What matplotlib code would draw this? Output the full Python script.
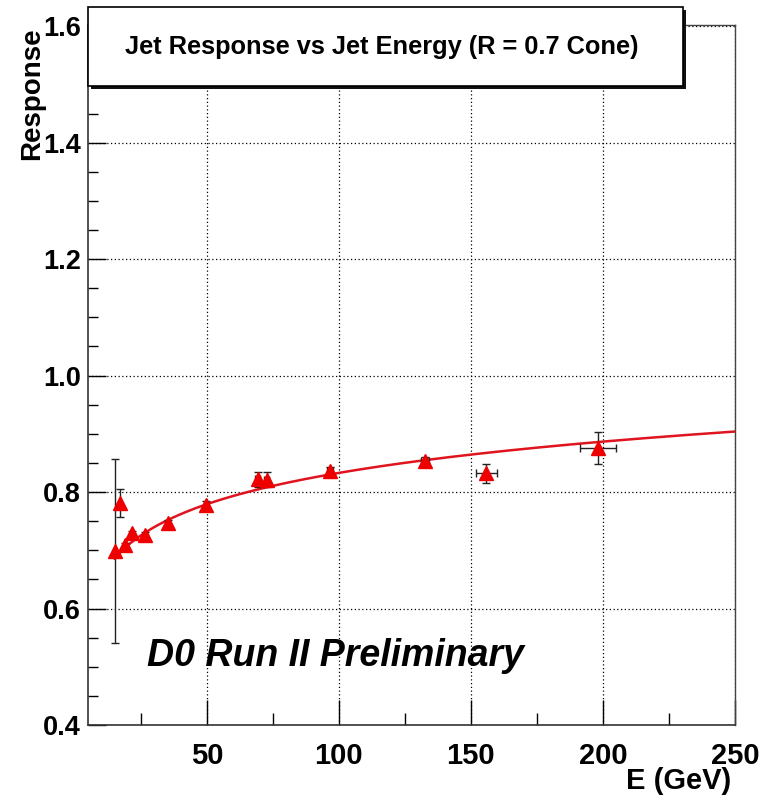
import matplotlib.pyplot as plt
import numpy as np
from matplotlib.patches import Rectangle
from matplotlib.ticker import MultipleLocator

# Messwerte: Jet-Energie (GeV) und Response
energy = [15.1, 17.3, 19.2, 21.7, 26.6, 35.4, 49.6, 69.3, 72.6, 96.7, 132.6, 155.9, 198.2]
response = [0.699, 0.782, 0.709, 0.729, 0.727, 0.747, 0.778, 0.822, 0.821, 0.837, 0.854, 0.832, 0.876]
energy_err = [0.3, 0.3, 0.3, 0.4, 0.5, 0.6, 0.8, 1.0, 1.0, 1.2, 1.5, 3.8, 6.9]
response_err = [0.158, 0.024, 0.004, 0.004, 0.004, 0.005, 0.006, 0.013, 0.013, 0.006, 0.006, 0.017, 0.027]

# Fit: R(E) = p0 + p1*ln(E)
fit_params = [0.476, 0.0775]
fit_range = [15.0, 250.0]

xticks = [50, 100, 150, 200, 250]
yticks = [0.4, 0.6, 0.8, 1.0, 1.2, 1.4, 1.6]

plt.rcParams['font.family'] = ['Liberation Sans', 'DejaVu Sans']

fig = plt.figure(figsize=(7.75, 7.97), dpi=100)
ax = fig.add_axes([88/775, 72/797, (735-88)/775, (725-25)/797])

ax.set_xlim(5, 250)
ax.set_ylim(0.4, 1.602)

ax.grid(True, which='major', color='black', linestyle=(0, (1, 2)), linewidth=0.9)
ax.set_axisbelow(True)

ef = np.linspace(fit_range[0], fit_range[1], 300)
ax.plot(ef, fit_params[0] + fit_params[1]*np.log(ef), color='#e0141e', linewidth=1.8, zorder=3)

ax.errorbar(energy, response, xerr=energy_err, yerr=response_err, fmt='none',
            ecolor='#222222', elinewidth=1.0, capsize=3, capthick=1.0, zorder=4)
ax.plot(energy, response, linestyle='none', marker='^', markersize=10.5,
        color='#ee0000', markeredgecolor='#ee0000', zorder=5)

ax.set_xticks(xticks)
ax.set_yticks(yticks)
ax.set_xticklabels([str(v) for v in xticks])
ax.set_yticklabels([f'{v:.1f}' for v in yticks])
ax.xaxis.set_minor_locator(MultipleLocator(25))
ax.yaxis.set_minor_locator(MultipleLocator(0.05))
ax.tick_params(axis='x', which='major', direction='in', length=18, width=1, pad=12,
               labelsize=21, top=False)
ax.tick_params(axis='x', which='minor', direction='in', length=9, width=1, top=False)
ax.tick_params(axis='y', which='major', direction='in', length=13, width=1, pad=5,
               labelsize=19.5, right=False)
ax.tick_params(axis='y', which='minor', direction='in', length=7, width=1, right=False)
for lab in ax.get_xticklabels() + ax.get_yticklabels():
    lab.set_fontweight('bold')

for s in ['left', 'bottom']:
    ax.spines[s].set_linewidth(1.2)
    ax.spines[s].set_color('#333333')
for s in ['top', 'right']:
    ax.spines[s].set_linewidth(1.0)
    ax.spines[s].set_color('#444444')

fig.text(731/775, 1 - 781/797, 'E (GeV)', ha='right', va='center',
         fontsize=21, fontweight='bold')
fig.text(32/775, 1 - 27/797, 'Response', ha='center', va='top', rotation=90,
         fontsize=20, fontweight='bold')

# Titelbox mit Schatten
shadow = Rectangle((91/775, 1 - 89/797), (683-88)/775, (86-7)/797, transform=fig.transFigure,
                   facecolor='#111111', edgecolor='none', zorder=10)
box = Rectangle((88/775, 1 - 86/797), (683-88)/775, (86-7)/797, transform=fig.transFigure,
                facecolor='white', edgecolor='black', linewidth=1.2, zorder=11)
fig.patches.extend([shadow, box])
fig.text((88+683)/2/775 - 0.005, 1 - 47/797, 'Jet Response vs Jet Energy (R = 0.7 Cone)',
         ha='center', va='center', fontsize=18.3, fontweight='bold', zorder=12)

ax.text(27.5, 0.519, 'D0 Run II Preliminary', fontsize=27, fontweight='bold',
        fontstyle='italic', ha='left', va='center', zorder=6)

plt.savefig('out.png', dpi=100)
